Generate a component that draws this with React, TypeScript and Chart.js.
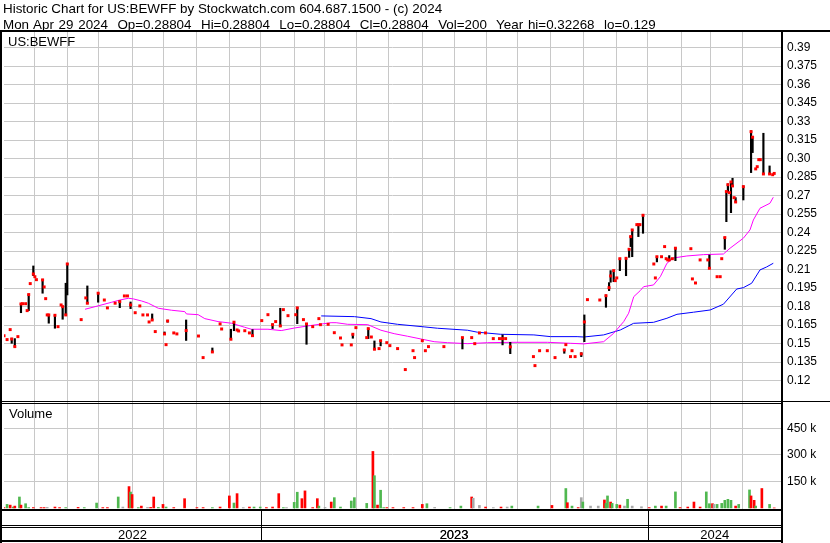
import { useEffect, useRef } from 'react';
import { Chart, registerables } from 'chart.js';

Chart.register(...registerables);

const FONT = "'Liberation Sans', Arial, sans-serif";

const headerLine1 = 'Historic Chart for US:BEWFF by Stockwatch.com 604.687.1500 - (c) 2024';
const headerLine2 = 'Mon Apr 29 2024  Op=0.28804  Hi=0.28804  Lo=0.28804  Cl=0.28804  Vol=200  Year hi=0.32268  lo=0.129';
const symbolLabel = 'US:BEWFF';
const volumeLabel = 'Volume';

// x axis: trading-day index from end of Apr 2022
const monthStarts = [19.6, 40.9, 61.2, 83.5, 103.6, 124.9, 146.0, 166.3, 188.2, 207.6, 228.7, 249.2, 271.2, 291.6, 312.3, 332.6, 354.1, 375.6, 396.7, 417.0, 438.7, 457.9, 478.4];
const yearStarts = [166.3, 417.0];
const yearMids = [83.2, 291.6, 460.5];
const yearLabels = ['2022', '2023', '2024'];

const priceTickValues = [0.39, 0.375, 0.36, 0.345, 0.33, 0.315, 0.30, 0.285, 0.27, 0.255, 0.24, 0.225, 0.21, 0.195, 0.18, 0.165, 0.15, 0.135, 0.12];
const priceTickLabels = ['0.39', '0.375', '0.36', '0.345', '0.33', '0.315', '0.30', '0.285', '0.27', '0.255', '0.24', '0.225', '0.21', '0.195', '0.18', '0.165', '0.15', '0.135', '0.12'];
const volTickValues = [150000, 300000, 450000];
const volTickLabels = ['150 k', '300 k', '450 k'];

const days = [
  0, 2, 4, 5, 7, 9, 11, 12, 14, 15,
  16, 17, 19, 20, 21, 25, 26, 27, 28, 29,
  33, 35, 37, 38, 40, 41, 50, 53, 54, 61,
  65, 67, 72, 75, 78, 80, 82, 85, 88, 90,
  93, 94, 96, 98, 104, 105, 106, 110, 112, 118,
  126, 129, 135, 140, 141, 147, 149, 151, 152, 156,
  159, 161, 167, 171, 174, 176, 179, 181, 184, 189,
  190, 194, 196, 200, 204, 205, 210, 214, 218, 219,
  225, 226, 228, 235, 236, 238, 240, 243, 244, 248,
  250, 255, 260, 265, 266, 271, 273, 275, 285, 297,
  303, 305, 308, 312, 317, 321, 323, 325, 328, 343,
  344, 347, 352, 357, 363, 364, 367, 368, 370, 374,
  376, 378, 386, 390, 392, 393, 395, 396, 397, 399,
  403, 405, 406, 407, 410, 411, 412, 414, 421, 422,
  423, 426, 428, 429, 430, 431, 433, 435, 445, 446,
  448, 451, 456, 457, 462, 464, 465, 467, 468, 469,
  470, 471, 472, 473, 474, 479, 484, 485, 487, 488,
  489, 490, 492, 496, 498, 499,
];

const highs = [
  0.1565, 0.1533, 0.1614, 0.1544, 0.1541, 0.1557, 0.1822, 0.1824, 0.1824, 0.1768,
  0.1901, 0.1987, 0.2130, 0.2043, 0.2019, 0.2022, 0.1960, 0.1865, 0.1733, 0.1733,
  0.1730, 0.1638, 0.1814, 0.1800, 0.1990, 0.2152, 0.1695, 0.1871, 0.1968, 0.1909,
  0.1854, 0.1790, 0.1828, 0.1846, 0.1887, 0.1887, 0.1838, 0.1751, 0.1806, 0.1733,
  0.1733, 0.1676, 0.1741, 0.1598, 0.1595, 0.1492, 0.1690, 0.1587, 0.1579, 0.1692,
  0.1562, 0.1387, 0.1465, 0.1660, 0.1619, 0.1617, 0.1674, 0.1611, 0.1603, 0.1605,
  0.1587, 0.1614, 0.1687, 0.1735, 0.1660, 0.1679, 0.1787, 0.1776, 0.1727, 0.1735,
  0.1795, 0.1695, 0.1662, 0.1638, 0.1703, 0.1654, 0.1657, 0.1589, 0.1546, 0.1490,
  0.1490, 0.1576, 0.1630, 0.1549, 0.1622, 0.1554, 0.1522, 0.1460, 0.1524, 0.1508,
  0.1484, 0.1460, 0.1290, 0.1443, 0.1387, 0.1524, 0.1443, 0.1476, 0.1476, 0.1549,
  0.1549, 0.1500, 0.1587, 0.1587, 0.1541, 0.1541, 0.1571, 0.1541, 0.1511, 0.1395,
  0.1322, 0.1443, 0.1443, 0.1387, 0.1449, 0.1492, 0.1395, 0.1443, 0.1395, 0.1427,
  0.1733, 0.1857, 0.1854, 0.1895, 0.1995, 0.2092, 0.2092, 0.2011, 0.2033, 0.2189,
  0.2192, 0.2265, 0.2373, 0.2422, 0.2465, 0.2465, 0.2465, 0.2541, 0.2146, 0.2033,
  0.2205, 0.2205, 0.2287, 0.2189, 0.2179, 0.2214, 0.2189, 0.2274, 0.2270, 0.2025,
  0.1992, 0.2179, 0.2179, 0.2219, 0.2043, 0.2043, 0.2189, 0.2363, 0.2733, 0.2795,
  0.2724, 0.2811, 0.2841, 0.2684, 0.2684, 0.2779, 0.32268, 0.3174, 0.2917, 0.2935,
  0.2992, 0.2992, 0.3206, 0.2941, 0.2870, 0.28804,
];

const lows = [
  0.1565, 0.1533, 0.1614, 0.1503, 0.1476, 0.1557, 0.1751, 0.1824, 0.1824, 0.1768,
  0.1768, 0.1987, 0.2051, 0.2043, 0.2019, 0.1909, 0.1960, 0.1865, 0.1733, 0.1666,
  0.1625, 0.1638, 0.1814, 0.1698, 0.1733, 0.1895, 0.1695, 0.1871, 0.1828, 0.1836,
  0.1854, 0.1790, 0.1828, 0.1792, 0.1887, 0.1887, 0.1784, 0.1751, 0.1806, 0.1733,
  0.1733, 0.1676, 0.1692, 0.1598, 0.1573, 0.1492, 0.1674, 0.1587, 0.1579, 0.1526,
  0.1562, 0.1387, 0.1433, 0.1660, 0.1619, 0.1536, 0.1605, 0.1611, 0.1603, 0.1605,
  0.1587, 0.1565, 0.1687, 0.1735, 0.1622, 0.1679, 0.1638, 0.1776, 0.1727, 0.1735,
  0.1662, 0.1695, 0.1495, 0.1638, 0.1703, 0.1654, 0.1657, 0.1589, 0.1546, 0.1490,
  0.1490, 0.1544, 0.1630, 0.1549, 0.1541, 0.1554, 0.1455, 0.1460, 0.1482, 0.1508,
  0.1484, 0.1460, 0.1290, 0.1443, 0.1387, 0.1524, 0.1443, 0.1476, 0.1476, 0.1457,
  0.1549, 0.1500, 0.1587, 0.1587, 0.1541, 0.1541, 0.1490, 0.1541, 0.1419, 0.1395,
  0.1322, 0.1443, 0.1443, 0.1387, 0.1422, 0.1492, 0.1395, 0.1443, 0.1395, 0.1395,
  0.1516, 0.1857, 0.1854, 0.1795, 0.1930, 0.1998, 0.2003, 0.2011, 0.2033, 0.2092,
  0.2051, 0.2200, 0.2287, 0.2205, 0.2465, 0.2368, 0.2465, 0.2395, 0.2146, 0.2033,
  0.2163, 0.2205, 0.2287, 0.2189, 0.2179, 0.2179, 0.2189, 0.2173, 0.2270, 0.2025,
  0.1992, 0.2179, 0.2179, 0.2111, 0.2043, 0.2043, 0.2189, 0.2265, 0.2489, 0.2733,
  0.2724, 0.2562, 0.2779, 0.2684, 0.2649, 0.2665, 0.2887, 0.3049, 0.2917, 0.2935,
  0.2992, 0.2992, 0.2876, 0.2876, 0.2870, 0.28804,
];

const closes = [
  0.1565, 0.1533, 0.1614, 0.1538, 0.1476, 0.1557, 0.1822, 0.1824, 0.1824, 0.1768,
  0.1898, 0.1987, 0.2065, 0.2043, 0.2019, 0.2017, 0.1960, 0.1865, 0.1733, 0.1733,
  0.1730, 0.1638, 0.1814, 0.1800, 0.1733, 0.2146, 0.1695, 0.1871, 0.1828, 0.1909,
  0.1854, 0.1790, 0.1828, 0.1841, 0.1887, 0.1887, 0.1814, 0.1751, 0.1806, 0.1733,
  0.1733, 0.1676, 0.1692, 0.1598, 0.1579, 0.1492, 0.1684, 0.1587, 0.1579, 0.1606,
  0.1562, 0.1387, 0.1433, 0.1660, 0.1619, 0.1536, 0.1674, 0.1611, 0.1603, 0.1605,
  0.1587, 0.1565, 0.1687, 0.1735, 0.1654, 0.1679, 0.1644, 0.1776, 0.1727, 0.1735,
  0.1790, 0.1695, 0.1660, 0.1638, 0.1703, 0.1654, 0.1657, 0.1589, 0.1546, 0.1490,
  0.1490, 0.1576, 0.1630, 0.1549, 0.1622, 0.1554, 0.1455, 0.1460, 0.1524, 0.1508,
  0.1484, 0.1460, 0.1290, 0.1443, 0.1387, 0.1524, 0.1443, 0.1476, 0.1476, 0.1549,
  0.1549, 0.1500, 0.1587, 0.1587, 0.1541, 0.1541, 0.1541, 0.1541, 0.1474, 0.1395,
  0.1322, 0.1443, 0.1443, 0.1387, 0.1449, 0.1492, 0.1395, 0.1443, 0.1395, 0.1417,
  0.1676, 0.1857, 0.1854, 0.1889, 0.1954, 0.2049, 0.2092, 0.2011, 0.2033, 0.2189,
  0.2192, 0.2265, 0.2368, 0.2422, 0.2465, 0.2465, 0.2465, 0.2541, 0.2146, 0.2033,
  0.2205, 0.2205, 0.2287, 0.2189, 0.2179, 0.2179, 0.2189, 0.2274, 0.2270, 0.2025,
  0.1992, 0.2179, 0.2179, 0.2111, 0.2043, 0.2043, 0.2189, 0.2360, 0.2733, 0.2789,
  0.2724, 0.2811, 0.2779, 0.2684, 0.2649, 0.2773, 0.3219, 0.3174, 0.2917, 0.2935,
  0.2992, 0.2992, 0.2876, 0.2876, 0.2870, 0.28804,
];

const ma50Days = [52.5, 59, 69.8, 75.1, 80.6, 83.8, 89.2, 93.5, 100, 108.6, 117.1, 118.2, 125.8, 130.1, 138.7, 147.3, 155.9, 160.2, 171, 179.6, 188.2, 196.9, 204.4, 211.9, 215.2, 222.7, 235.7, 244.2, 252.8, 261.5, 270.1, 278.7, 287.3, 300.3, 313.2, 330.4, 352, 367, 375.6, 388.5, 395, 401.5, 404.7, 408, 412.2, 414.4, 420.8, 425.2, 429.5, 433.8, 442.4, 453.2, 466.1, 470.4, 479, 483.3, 485.5, 489.8, 496.2, 498.4];
const ma50Values = [0.1779, 0.1800, 0.1836, 0.1854, 0.1868, 0.1863, 0.1846, 0.1828, 0.1787, 0.1771, 0.1760, 0.1741, 0.1735, 0.1703, 0.1679, 0.1666, 0.1633, 0.1617, 0.1617, 0.1606, 0.1627, 0.1644, 0.1657, 0.1670, 0.1670, 0.1657, 0.1654, 0.1609, 0.1581, 0.1560, 0.1538, 0.1516, 0.1508, 0.1500, 0.1508, 0.1511, 0.1511, 0.1503, 0.1498, 0.1516, 0.1584, 0.1679, 0.1747, 0.1881, 0.1930, 0.1962, 0.1976, 0.2043, 0.2152, 0.2195, 0.2211, 0.2222, 0.2227, 0.2274, 0.2355, 0.2422, 0.2503, 0.2598, 0.2638, 0.2687];

const ma200Days = [205.5, 227, 237.8, 244.2, 255, 272.2, 280.9, 300.3, 306.7, 321.8, 343.3, 354.1, 371.3, 375.6, 388.5, 399.3, 407.9, 420.8, 429.5, 436, 446.7, 457.5, 466.1, 474.7, 479, 484.4, 489.8, 494.1, 498.4];
const ma200Values = [0.1725, 0.1719, 0.1703, 0.1676, 0.1657, 0.1636, 0.1625, 0.1609, 0.1593, 0.1576, 0.1571, 0.1557, 0.1557, 0.1554, 0.1571, 0.1611, 0.1665, 0.1673, 0.1706, 0.1738, 0.1755, 0.1773, 0.1820, 0.1943, 0.1954, 0.1990, 0.2098, 0.2122, 0.2152];

const volDays = [
  0, 2, 4, 6, 7, 10, 11, 14, 16, 19,
  24, 26, 28, 33, 36, 40, 48, 52, 60, 64,
  67, 74, 77, 81, 82, 83, 87, 89, 93, 95,
  97, 100, 103, 105, 110, 117, 125, 129, 135, 140,
  146, 149, 151, 155, 159, 162, 166, 170, 174, 178,
  181, 183, 188, 190, 193, 195, 200, 203, 204, 208,
  212, 214, 218, 225, 227, 235, 239, 240, 242, 244,
  246, 248, 252, 259, 265, 271, 274, 279, 289, 296,
  303, 304, 308, 312, 317, 322, 326, 329, 346, 355,
  364, 365, 368, 372, 374, 375, 380, 385, 389, 390,
  391, 393, 394, 397, 399, 402, 404, 407, 413, 418,
  422, 426, 429, 435, 438, 443, 447, 451, 455, 457,
  459, 460, 462, 465, 467, 469, 471, 474, 476, 483,
  484, 486, 487, 491, 496, 499,
];
const volumes = [
  2000, 20000, 16000, 5000, 10500, 62000, 16000, 24000, 2000, 2000,
  2000, 2000, 3000, 5000, 2000, 2000, 3000, 2000, 27700, 2000,
  2000, 62000, 5000, 121000, 90000, 76000, 2000, 10500, 3000, 3000,
  62000, 3000, 20000, 5000, 2000, 52500, 2000, 2000, 2000, 5000,
  68000, 27700, 81000, 2000, 5000, 5000, 5000, 2000, 5000, 81000,
  2000, 2000, 31500, 89000, 52500, 96500, 2000, 52500, 10500, 3000,
  33400, 58300, 5000, 39200, 58300, 25800, 320000, 182500, 16200, 100300,
  2000, 2000, 2000, 2000, 2000, 20000, 24000, 3000, 2000, 10500,
  62000, 55000, 14300, 5000, 2000, 5000, 5000, 10500, 10500, 14300,
  110000, 29600, 10500, 2000, 58300, 33400, 10500, 10500, 45000, 25800,
  68000, 33400, 25800, 20000, 16200, 10500, 49000, 10500, 6700, 2000,
  10500, 10500, 10500, 90800, 2000, 5000, 33400, 5000, 90800, 24000,
  24000, 20000, 20000, 25800, 43000, 48700, 43000, 10500, 20000, 102000,
  68000, 43000, 10500, 110000, 20000, 200,
];
// 1 = up day, -1 = down day, 0 = unchanged
const volDirection = [
  -1, 1, -1, 1, -1, 1, -1, 1, 1, -1,
  -1, -1, 0, -1, -1, 1, -1, 1, 1, -1,
  -1, 1, 0, -1, 1, -1, 1, -1, 0, -1,
  -1, 1, -1, 1, -1, -1, -1, -1, 1, -1,
  -1, 1, -1, 0, -1, 1, 1, -1, -1, -1,
  1, 0, 1, 1, -1, -1, -1, -1, 1, 0,
  -1, 1, 1, 1, 1, 1, -1, 1, -1, 1,
  1, -1, -1, -1, -1, -1, 1, 0, 1, 1,
  -1, 0, 0, -1, 0, -1, 0, 1, 1, -1,
  1, -1, 1, -1, 0, 1, 0, 0, -1, 1,
  1, -1, 1, 1, -1, 0, 1, 0, 0, -1,
  1, -1, 1, 1, -1, -1, -1, -1, 1, 1,
  -1, 0, 1, 1, 1, 1, 1, -1, 1, 1,
  -1, -1, 1, -1, 1, -1,
];

const GRID = '#c8c8c8';
const UP = '#50b850';
const DOWN = '#ff0000';
const FLAT = '#a8a8a8';

const framePlugin = {
  id: 'frame',
  afterDraw(chart: any) {
    const ctx = chart.ctx as CanvasRenderingContext2D;
    const area = chart.chartArea;
    const xs = chart.scales.x;
    const py = chart.scales.y;
    const W = chart.width;
    const H = chart.height;
    ctx.save();
    ctx.fillStyle = '#000';
    const R = Math.round(area.right);
    ctx.fillRect(0, area.top - 2, W, 2);
    ctx.fillRect(0, area.top - 2, 2, H - area.top + 2);
    ctx.fillRect(R, area.top - 2, 2, H - area.top + 2);
    const sep = Math.round(py.bottom);
    ctx.fillRect(0, sep - 1, R, 1);
    ctx.fillRect(0, sep + 1, R, 1);
    ctx.fillRect(R + 2, sep - 1, W - R - 2, 1);
    const b = Math.round(area.bottom);
    ctx.fillRect(0, b, R, 2);
    ctx.fillRect(0, b + 16, R, 1);
    ctx.fillRect(0, b + 18, R, 1);
    ctx.fillRect(0, b + 31, R, 2);
    for (const ys of yearStarts) {
      const px = Math.round(xs.getPixelForValue(ys));
      ctx.fillRect(px, b + 2, 1, 29);
    }
    ctx.restore();
  },
};

export default function App() {
  const ref = useRef<HTMLCanvasElement>(null);

  useEffect(() => {
    document.body.style.margin = '0';
    const canvas = ref.current;
    if (!canvas) return;

    const hlData = days
      .map((d, i) => (highs[i] > lows[i] ? { x: d, y: [lows[i], highs[i]] } : null))
      .filter((p) => p !== null);
    const closeData = days.map((d, i) => ({ x: d, y: closes[i] }));
    const ma50Data = ma50Days.map((d, i) => ({ x: d, y: ma50Values[i] }));
    const ma200Data = ma200Days.map((d, i) => ({ x: d, y: ma200Values[i] }));
    const volData = volDays.map((d, i) => ({ x: d, y: volumes[i] }));
    const volColors = volDirection.map((v) => (v > 0 ? UP : v < 0 ? DOWN : FLAT));
    const xTicks = [...monthStarts, ...yearMids].sort((a, b) => a - b);

    const chart = new Chart(canvas, {
      type: 'bar',
      data: {
        datasets: [
          {
            type: 'scatter',
            data: closeData,
            xAxisID: 'x',
            yAxisID: 'y',
            pointStyle: 'rect',
            pointRadius: 2.1,
            pointBorderWidth: 0,
            pointBackgroundColor: DOWN,
            backgroundColor: DOWN,
            borderWidth: 0,
            order: 0,
          } as any,
          {
            type: 'bar',
            data: hlData as any,
            xAxisID: 'x',
            yAxisID: 'y',
            backgroundColor: '#000',
            barThickness: 1.5,
            grouped: false,
            order: 1,
          } as any,
          {
            type: 'line',
            data: ma50Data,
            xAxisID: 'x',
            yAxisID: 'y',
            borderColor: '#ff00ff',
            borderWidth: 1,
            pointRadius: 0,
            tension: 0,
            fill: false,
            order: 2,
          } as any,
          {
            type: 'line',
            data: ma200Data,
            xAxisID: 'x',
            yAxisID: 'y',
            borderColor: '#0000ff',
            borderWidth: 1,
            pointRadius: 0,
            tension: 0,
            fill: false,
            order: 3,
          } as any,
          {
            type: 'bar',
            data: volData,
            xAxisID: 'x',
            yAxisID: 'yv',
            backgroundColor: volColors,
            barThickness: 2,
            grouped: false,
            order: 4,
          } as any,
        ],
      },
      options: {
        animation: false,
        responsive: false,
        devicePixelRatio: 1,
        events: [],
        layout: { padding: { left: 2, top: 32, right: 0, bottom: 0 } },
        plugins: { legend: { display: false }, tooltip: { enabled: false }, title: { display: false } },
        scales: {
          x: {
            type: 'linear',
            position: 'bottom',
            min: 0,
            max: 503.4,
            offset: false,
            bounds: 'data',
            border: { display: false },
            grid: {
              offset: false,
              drawTicks: false,
              lineWidth: 1,
              color: (c: any) => (c.tick && monthStarts.includes(c.tick.value) ? GRID : 'rgba(0,0,0,0)'),
            },
            ticks: {
              autoSkip: false,
              maxRotation: 0,
              minRotation: 0,
              padding: 19,
              color: '#000',
              font: { family: FONT, size: 13 },
              callback: (v: any) => {
                const k = yearMids.indexOf(Number(v));
                return k >= 0 ? yearLabels[k] : '';
              },
            },
            afterBuildTicks: (s: any) => {
              s.ticks = xTicks.map((v) => ({ value: v }));
            },
            afterFit: (s: any) => {
              s.height = 34;
            },
          } as any,
          y: {
            type: 'linear',
            position: 'right',
            stack: 'panels',
            stackWeight: 370,
            weight: 0,
            min: 0.1027,
            max: 0.4027,
            bounds: 'data',
            border: { display: false },
            grid: { color: GRID, drawTicks: false, lineWidth: 1 },
            ticks: {
              autoSkip: false,
              padding: 6,
              color: '#000',
              font: { family: FONT, size: 12 },
              callback: (v: any) => {
                const k = priceTickValues.indexOf(Number(v));
                return k >= 0 ? priceTickLabels[k] : '';
              },
            },
            afterBuildTicks: (s: any) => {
              s.ticks = priceTickValues.map((v) => ({ value: v }));
            },
            afterFit: (s: any) => {
              s.width = 49;
            },
          } as any,
          yv: {
            type: 'linear',
            position: 'right',
            stack: 'panels',
            stackWeight: 107,
            weight: 1,
            min: -6000,
            max: 600000,
            bounds: 'data',
            border: { display: false },
            grid: { color: GRID, drawTicks: false, lineWidth: 1 },
            ticks: {
              autoSkip: false,
              padding: 6,
              color: '#000',
              font: { family: FONT, size: 12 },
              callback: (v: any) => {
                const k = volTickValues.indexOf(Number(v));
                return k >= 0 ? volTickLabels[k] : '';
              },
            },
            afterBuildTicks: (s: any) => {
              s.ticks = volTickValues.map((v) => ({ value: v }));
            },
            afterFit: (s: any) => {
              s.width = 49;
            },
          } as any,
        },
      },
      plugins: [framePlugin],
    });

    return () => chart.destroy();
  }, []);

  return (
    <div style={{ position: 'relative', width: 830, height: 543, background: '#fff', overflow: 'hidden' }}>
      <canvas ref={ref} width={830} height={543} style={{ position: 'absolute', left: 0, top: 0, width: 830, height: 543 }} />
      <div style={{ position: 'absolute', left: 3, top: 1, font: `13.4px/16px ${FONT}`, whiteSpace: 'pre', color: '#000' }}>
        {headerLine1}
      </div>
      <div style={{ position: 'absolute', left: 3, top: 17, font: `13.4px/16px ${FONT}`, whiteSpace: 'pre', color: '#000', wordSpacing: '1px' }}>
        {headerLine2}
      </div>
      <div style={{ position: 'absolute', left: 8, top: 34, font: `13px/15px ${FONT}`, whiteSpace: 'pre', color: '#000' }}>
        {symbolLabel}
      </div>
      <div style={{ position: 'absolute', left: 9, top: 406, font: `13px/15px ${FONT}`, whiteSpace: 'pre', color: '#000' }}>
        {volumeLabel}
      </div>
    </div>
  );
}
